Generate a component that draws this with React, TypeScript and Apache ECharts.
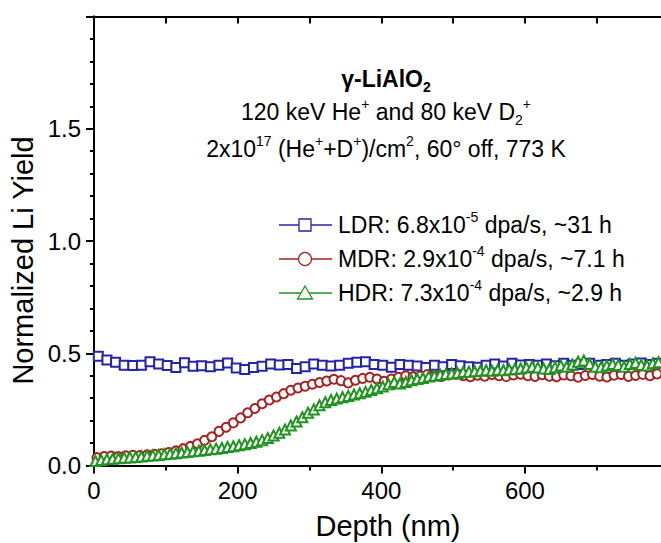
import React, { useEffect, useRef } from "react";
import * as echarts from "echarts";

const FONT = '"Liberation Sans", Arial, Helvetica, sans-serif';

const xMajorTicks = [0, 200, 400, 600];
const xMinorTicks = [100, 300, 500, 700];

const ldrDepth = [
  6, 18, 30, 42, 54, 66, 78, 90, 102, 114,
  126, 138, 150, 162, 174, 186, 198, 210, 222, 234,
  246, 258, 270, 282, 294, 306, 318, 330, 342, 354,
  366, 378, 390, 402, 414, 426, 438, 450, 462, 474,
  486, 498, 510, 522, 534, 546, 558, 570, 582, 594,
  606, 618, 630, 642, 654, 666, 678, 690, 702, 714,
  726, 738, 750, 762, 774, 786,
];
const ldrYield = [
  0.487, 0.47, 0.46, 0.447, 0.445, 0.447, 0.462, 0.452, 0.445, 0.436,
  0.458, 0.442, 0.444, 0.44, 0.446, 0.457, 0.434, 0.428, 0.437, 0.442,
  0.452, 0.448, 0.45, 0.432, 0.44, 0.452, 0.446, 0.443, 0.446, 0.455,
  0.46, 0.462, 0.45, 0.446, 0.438, 0.45, 0.446, 0.443, 0.437, 0.447,
  0.44, 0.45, 0.444, 0.44, 0.438, 0.447, 0.452, 0.443, 0.455, 0.448,
  0.45, 0.446, 0.452, 0.444, 0.455, 0.447, 0.45, 0.456, 0.446, 0.45,
  0.455, 0.447, 0.452, 0.457, 0.45, 0.455,
];

const mdrDepth = [
  4, 14, 24, 34, 44, 54, 64, 74, 84, 94,
  104, 114, 124, 134, 144, 154, 164, 174, 184, 194,
  204, 214, 224, 234, 244, 254, 264, 274, 284, 294,
  304, 314, 324, 334, 344, 354, 364, 374, 384, 394,
  404, 414, 424, 434, 444, 454, 464, 474, 484, 494,
  504, 514, 524, 534, 544, 554, 564, 574, 584, 594,
  604, 614, 624, 634, 644, 654, 664, 674, 684, 694,
  704, 714, 724, 734, 744, 754, 764, 774, 784,
];
const mdrYield = [
  0.035, 0.04, 0.042, 0.04, 0.043, 0.045, 0.044, 0.048, 0.05, 0.052,
  0.058, 0.065, 0.075, 0.085, 0.097, 0.112, 0.128, 0.152, 0.17, 0.19,
  0.212, 0.235, 0.254, 0.275, 0.292, 0.305, 0.32, 0.335, 0.345, 0.353,
  0.362, 0.37, 0.376, 0.384, 0.378, 0.368, 0.38, 0.388, 0.393, 0.385,
  0.375, 0.385, 0.393, 0.4, 0.395, 0.398, 0.405, 0.4, 0.397, 0.403,
  0.406, 0.4, 0.395, 0.402, 0.398, 0.405, 0.4, 0.396, 0.403, 0.407,
  0.4, 0.397, 0.404, 0.398, 0.395, 0.403, 0.4, 0.393, 0.401, 0.405,
  0.398, 0.394, 0.402, 0.405, 0.397, 0.401, 0.406, 0.4, 0.408,
];

const hdrDepth = [
  2, 10, 18, 26, 34, 42, 50, 58, 66, 74,
  82, 90, 98, 106, 114, 122, 130, 138, 146, 154,
  162, 170, 178, 186, 194, 202, 210, 218, 226, 234,
  242, 250, 258, 266, 274, 282, 290, 298, 306, 314,
  322, 330, 338, 346, 354, 362, 370, 378, 386, 394,
  402, 410, 418, 426, 434, 442, 450, 458, 466, 474,
  482, 490, 498, 506, 514, 522, 530, 538, 546, 554,
  562, 570, 578, 586, 594, 602, 610, 618, 626, 634,
  642, 650, 658, 666, 674, 682, 690, 698, 706, 714,
  722, 730, 738, 746, 754, 762, 770, 778, 786,
];
const hdrYield = [
  0.02, 0.024, 0.028, 0.03, 0.032, 0.035, 0.036, 0.038, 0.04, 0.043,
  0.045, 0.047, 0.05, 0.052, 0.055, 0.058, 0.06, 0.063, 0.066, 0.069,
  0.072, 0.075, 0.078, 0.082, 0.086, 0.09, 0.095, 0.1, 0.106, 0.113,
  0.122, 0.134, 0.146, 0.16, 0.178, 0.196, 0.215, 0.235, 0.25, 0.268,
  0.282, 0.292, 0.298, 0.304, 0.31, 0.316, 0.322, 0.328, 0.336, 0.344,
  0.352, 0.362, 0.372, 0.365, 0.372, 0.38, 0.385, 0.39, 0.396, 0.4,
  0.404, 0.408, 0.41, 0.412, 0.416, 0.418, 0.42, 0.422, 0.424, 0.422,
  0.426, 0.424, 0.428, 0.43, 0.432, 0.436, 0.44, 0.436, 0.432, 0.43,
  0.438, 0.445, 0.44, 0.45, 0.462, 0.468, 0.452, 0.44, 0.438, 0.445,
  0.452, 0.448, 0.44, 0.452, 0.458, 0.448, 0.445, 0.455, 0.46,
];

const BLUE = "#2424a8";
const RED = "#a52222";
const GREEN = "#219321";

const seriesDefs = [
  { name: "LDR", depth: ldrDepth, values: ldrYield, color: BLUE, symbol: "emptyRect", size: 9 },
  { name: "MDR", depth: mdrDepth, values: mdrYield, color: RED, symbol: "emptyCircle", size: 9 },
  { name: "HDR", depth: hdrDepth, values: hdrYield, color: GREEN, symbol: "emptyTriangle", size: 10 },
];

const legendTexts = [
  "LDR: 6.8x10{sup|-5} dpa/s, ~31 h",
  "MDR: 2.9x10{sup|-4} dpa/s, ~7.1 h",
  "HDR: 7.3x10{sup|-4} dpa/s, ~2.9 h",
];

export default function App() {
  const ref = useRef<HTMLDivElement>(null);

  useEffect(() => {
    if (!ref.current) return;
    const chart = echarts.init(ref.current, undefined, { renderer: "svg" });

    const axisLine = { show: true, lineStyle: { color: "#000", width: 2 } };
    const annFs = 23;
    const txt = (extra: any) => ({
      fontFamily: FONT,
      fill: "#000",
      ...extra,
    });

    const legendEls: any[] = [];
    const rowY = [225, 259, 293];
    seriesDefs.forEach((s, i) => {
      const y = rowY[i];
      legendEls.push({
        type: "line",
        shape: { x1: 279, y1: y, x2: 332, y2: y },
        style: { stroke: s.color, lineWidth: 1.3 },
        z: 10,
      });
      if (i === 0) {
        legendEls.push({
          type: "rect",
          shape: { x: 299, y: y - 6, width: 12, height: 12 },
          style: { fill: "#fff", stroke: s.color, lineWidth: 1.3 },
          z: 11,
        });
      } else if (i === 1) {
        legendEls.push({
          type: "circle",
          shape: { cx: 305, cy: y, r: 6.5 },
          style: { fill: "#fff", stroke: s.color, lineWidth: 1.3 },
          z: 11,
        });
      } else {
        legendEls.push({
          type: "polygon",
          shape: { points: [[305, y - 7], [312.5, y + 6], [297.5, y + 6]] },
          style: { fill: "#fff", stroke: s.color, lineWidth: 1.3 },
          z: 11,
        });
      }
      legendEls.push({
        type: "text",
        x: 338,
        y: y,
        z: 11,
        style: txt({
          text: legendTexts[i],
          fontSize: annFs,
          lineHeight: 30,
          align: "left",
          verticalAlign: "middle",
          rich: {
            sup: txt({ fontSize: 14, lineHeight: 16.3, verticalAlign: "top" }),
          },
        }),
      });
    });

    const annotation = [
      {
        type: "text",
        x: 386,
        y: 78.5,
        z: 11,
        style: txt({
          text: "γ-LiAlO{sub|2}",
          fontSize: annFs,
          fontWeight: "bold",
          lineHeight: 30,
          align: "center",
          verticalAlign: "middle",
          rich: {
            sub: txt({ fontSize: 14, fontWeight: "bold", lineHeight: 9.7, verticalAlign: "bottom" }),
          },
        }),
      },
      {
        type: "text",
        x: 386,
        y: 112,
        z: 11,
        style: txt({
          text: "120 keV He{sup|+} and 80 keV D{sub|2}{sup|+}",
          fontSize: annFs,
          lineHeight: 30,
          align: "center",
          verticalAlign: "middle",
          rich: {
            sup: txt({ fontSize: 14, lineHeight: 14.3, verticalAlign: "top" }),
            sub: txt({ fontSize: 14, lineHeight: 3.7, verticalAlign: "bottom" }),
          },
        }),
      },
      {
        type: "text",
        x: 386,
        y: 149,
        z: 11,
        style: txt({
          text: "2x10{sup|17} (He{sup|+}+D{sup|+})/cm{sup|2}, 60° off, 773 K",
          fontSize: annFs,
          lineHeight: 30,
          align: "center",
          verticalAlign: "middle",
          rich: {
            sup: txt({ fontSize: 14, lineHeight: 14.3, verticalAlign: "top" }),
          },
        }),
      },
    ];

    const titles = [
      {
        type: "text",
        x: 388,
        y: 526,
        style: txt({
          text: "Depth (nm)",
          fontSize: 29,
          align: "center",
          verticalAlign: "middle",
        }),
      },
      {
        type: "text",
        x: 23,
        y: 260.5,
        rotation: Math.PI / 2,
        style: txt({
          text: "Normalized Li Yield",
          fontSize: 29,
          align: "center",
          verticalAlign: "middle",
        }),
      },
    ];

    const option: any = {
      animation: false,
      backgroundColor: "#fff",
      grid: { left: 94, top: 16.5, width: 571, height: 449 },
      xAxis: [
        {
          type: "value",
          position: "bottom",
          min: 0,
          max: 795,
          interval: 100,
          axisLine,
          axisTick: {
            show: true,
            customValues: xMajorTicks,
            length: 8,
            inside: false,
            lineStyle: { color: "#000", width: 2 },
          },
          axisLabel: {
            show: true,
            customValues: xMajorTicks,
            fontSize: 24,
            fontFamily: FONT,
            color: "#000",
            margin: 13,
          },
          splitLine: { show: false },
        },
        {
          type: "value",
          position: "bottom",
          min: 0,
          max: 795,
          interval: 100,
          axisLine: { show: false },
          axisTick: {
            show: true,
            customValues: xMinorTicks,
            length: 5,
            inside: false,
            lineStyle: { color: "#000", width: 2 },
          },
          axisLabel: { show: false },
          splitLine: { show: false },
        },
        {
          type: "value",
          position: "top",
          min: 0,
          max: 795,
          interval: 100,
          axisLine,
          axisTick: {
            show: true,
            length: 7,
            inside: true,
            lineStyle: { color: "#000", width: 2 },
          },
          axisLabel: { show: false },
          splitLine: { show: false },
        },
      ],
      yAxis: [
        {
          type: "value",
          position: "left",
          min: 0,
          max: 2,
          interval: 0.5,
          axisLine,
          axisTick: {
            show: true,
            length: 8,
            inside: false,
            lineStyle: { color: "#000", width: 2 },
          },
          minorTick: {
            show: true,
            splitNumber: 5,
            length: 4,
            lineStyle: { color: "#000", width: 2 },
          },
          axisLabel: {
            show: true,
            showMaxLabel: false,
            fontSize: 24,
            fontFamily: FONT,
            color: "#000",
            margin: 13,
            formatter: (v: number) => v.toFixed(1),
          },
          splitLine: { show: false },
          minorSplitLine: { show: false },
        },
        {
          type: "value",
          position: "right",
          min: 0,
          max: 2,
          interval: 0.5,
          axisLine,
          axisTick: {
            show: true,
            length: 8,
            inside: true,
            lineStyle: { color: "#000", width: 2 },
          },
          minorTick: {
            show: true,
            splitNumber: 5,
            length: 4,
            lineStyle: { color: "#000", width: 2 },
          },
          axisLabel: { show: false },
          splitLine: { show: false },
        },
      ],
      series: seriesDefs.map((s) => ({
        type: "line",
        name: s.name,
        xAxisIndex: 0,
        yAxisIndex: 0,
        data: s.depth.map((d, i) => [d, s.values[i]]),
        symbol: s.symbol,
        symbolSize: s.size,
        showSymbol: true,
        lineStyle: { color: s.color, width: 1 },
        itemStyle: { color: s.color, borderColor: s.color, borderWidth: 1 },
        emphasis: { disabled: true },
        silent: true,
      })),
      graphic: { elements: [...annotation, ...legendEls, ...titles] },
    };

    chart.setOption(option);
    return () => chart.dispose();
  }, []);

  return (
    <div
      ref={ref}
      style={{ position: "fixed", left: 0, top: 0, width: 680, height: 543 }}
    />
  );
}
